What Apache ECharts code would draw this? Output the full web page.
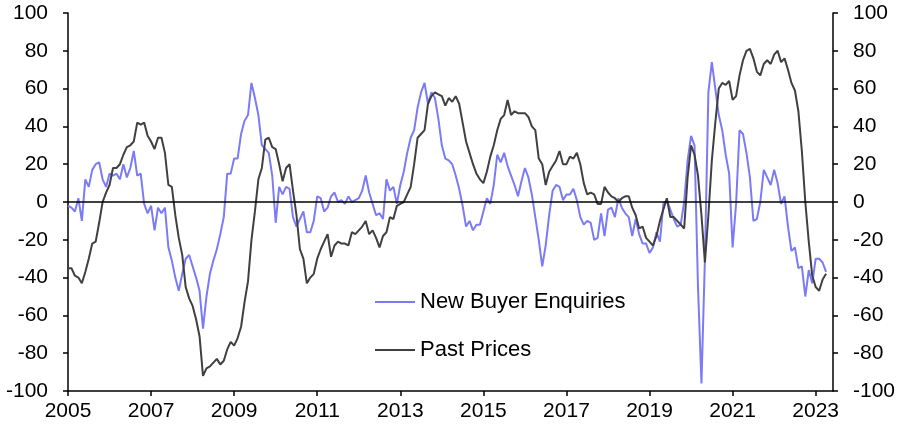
<!DOCTYPE html>
<html>
<head>
<meta charset="utf-8">
<script src="https://cdn.jsdelivr.net/npm/echarts@6/dist/echarts.min.js"></script>
<style>
  html, body { margin: 0; padding: 0; background: #fff; }
  #chart { width: 903px; height: 430px; }
</style>
</head>
<body>
<div id="chart"></div>
<script>
// monthly, Jan 2005 .. Apr 2023
const newBuyerEnquiries = [
  -2, -3, -5, 2, -10, 12, 8, 17, 20, 21, 12, 8,          // 2005
  15, 14, 15, 12, 20, 13, 18, 27, 14, 15, -1, -6,        // 2006
  -2, -15, -3, -6, -3, -24, -31, -40, -47, -38, -30, -28,// 2007
  -34, -40, -47, -67, -50, -38, -31, -25, -17, -8, 15, 15,// 2008
  23, 23, 36, 43, 46, 63, 55, 46, 30, 28, 26, 14,        // 2009
  -11, 8, 4, 8, 7, -8, -13, -9, -5, -16, -16, -10,       // 2010
  3, 2, -5, -3, 3, 5, 0, 1, -1, 3, 0, 1,                 // 2011
  2, 6, 14, 5, -1, -7, -6, -9, 12, 6, 8, -1,             // 2012
  9, 16, 26, 34, 38, 50, 58, 63, 52, 58, 55, 44,         // 2013
  30, 23, 22, 20, 14, 7, -2, -13, -10, -15, -12, -12,    // 2014
  -5, 2, -1, 9, 25, 21, 26, 19, 14, 9, 3, 11,            // 2015
  18, 13, 4, -8, -20, -34, -23, -7, 6, 9, 8, 1,          // 2016
  4, 4, 7, 1, -8, -12, -10, -11, -20, -19, -6, -18,      // 2017
  -4, -3, -8, 2, -3, -6, -8, -18, -9, -17, -22, -22,     // 2018
  -27, -24, -16, -21, -1, 1, -4, -9, -13, -12, 0, 22,    // 2019
  35, 30, -45, -96, -30, 58, 74, 60, 46, 38, 25, 15,     // 2020
  -24, -1, 38, 36, 26, 13, -10, -9, 0, 17, 13, 9,        // 2021
  17, 10, -1, 3, -13, -26, -24, -35, -34, -50, -36, -43, // 2022
  -30, -30, -32, -37                                     // 2023
];

const pastPrices = [
  -35, -35, -39, -40, -43, -37, -30, -22, -21, -11, 0, 5,
  9, 18, 18, 20, 25, 29, 30, 32, 42, 41, 42, 35,
  32, 28, 34, 34, 26, 9, 8, -7, -19, -28, -45, -51,
  -55, -62, -71, -92, -88, -87, -85, -83, -86, -84, -78, -74,
  -76, -72, -66, -53, -42, -20, -5, 12, 18, 33, 34, 29,
  28, 20, 11, 18, 20, 6, -7, -25, -30, -43, -40, -38,
  -30, -25, -21, -17, -29, -23, -21, -22, -22, -23, -16, -17,
  -15, -13, -10, -17, -15, -19, -24, -18, -16, -8, -9, -2,
  -1, 0, 4, 8, 20, 34, 36, 38, 52, 56, 58, 57,
  56, 51, 55, 53, 56, 52, 42, 32, 26, 20, 15, 12,
  10, 16, 24, 30, 38, 44, 46, 54, 46, 48, 47, 47,
  47, 45, 40, 38, 23, 20, 9, 16, 19, 22, 27, 20,
  20, 24, 23, 26, 20, 10, 4, 5, 4, -1, -1, 8,
  5, 3, 2, 0, 2, 3, 3, -3, -7, -14, -13, -19,
  -21, -23, -18, -10, -4, 2, -8, -8, -10, -12, -14, 13,
  30, 25, 14, -7, -32, -7, 22, 42, 60, 63, 62, 64,
  54, 56, 67, 75, 80, 81, 76, 69, 67, 73, 75, 73,
  78, 80, 74, 76, 70, 63, 59, 48, 27, 0, -21, -39,
  -45, -47, -41, -38
];

const startYear = 2005;
const extraMonths = 2; // axis runs a little past the last observation
const months = [];
for (let i = 0; i < newBuyerEnquiries.length + extraMonths; i++) {
  const y = startYear + Math.floor(i / 12);
  const m = (i % 12) + 1;
  months.push(y + '-' + (m < 10 ? '0' + m : m));
}

const FONT = "'Liberation Sans', Arial, sans-serif";

function valueAxis(pos) {
  return {
    type: 'value',
    position: pos,
    min: -100,
    max: 100,
    interval: 20,
    axisLine: { show: true, lineStyle: { color: '#000', width: 1.5 } },
    axisTick: { show: true, length: 5, lineStyle: { color: '#000', width: 1.5 } },
    axisLabel: { color: '#000', fontSize: 21, fontFamily: FONT, margin: 20 },
    splitLine: { show: false }
  };
}

let chart = echarts.init(document.getElementById('chart'));
chart.setOption({
  animation: false,
  grid: { left: 68, right: 70, top: 13, bottom: 39 },
  legend: {
    orient: 'vertical',
    left: 370,
    top: 286,
    icon: 'rect',
    itemWidth: 40,
    itemHeight: 2,
    itemGap: 26,
    textStyle: { color: '#000', fontSize: 22, fontFamily: FONT, lineHeight: 22 },
    data: ['New Buyer Enquiries', 'Past Prices']
  },
  xAxis: {
    type: 'category',
    data: months,
    boundaryGap: false,
    axisLine: { onZero: false, lineStyle: { color: '#000', width: 1.5 } },
    axisTick: { interval: 23, length: 5, lineStyle: { color: '#000', width: 1.5 } },
    axisLabel: {
      interval: 23,
      color: '#000',
      fontSize: 21,
      fontFamily: FONT,
      margin: 10,
      formatter: function (v) { return v.slice(0, 4); }
    },
    splitLine: { show: false }
  },
  yAxis: [valueAxis('left'), valueAxis('right')],
  series: [
    {
      name: 'New Buyer Enquiries',
      type: 'line',
      data: newBuyerEnquiries,
      symbol: 'none',
      lineStyle: { color: '#7b7bf7', width: 2 },
      itemStyle: { color: '#7b7bf7' },
      markLine: {
        silent: true,
        symbol: 'none',
        label: { show: false },
        lineStyle: { color: '#000', width: 1.5, type: 'solid' },
        data: [{ yAxis: 0 }]
      }
    },
    {
      name: 'Past Prices',
      type: 'line',
      data: pastPrices,
      symbol: 'none',
      lineStyle: { color: '#404040', width: 2 },
      itemStyle: { color: '#404040' }
    }
  ]
});
</script>
</body>
</html>
